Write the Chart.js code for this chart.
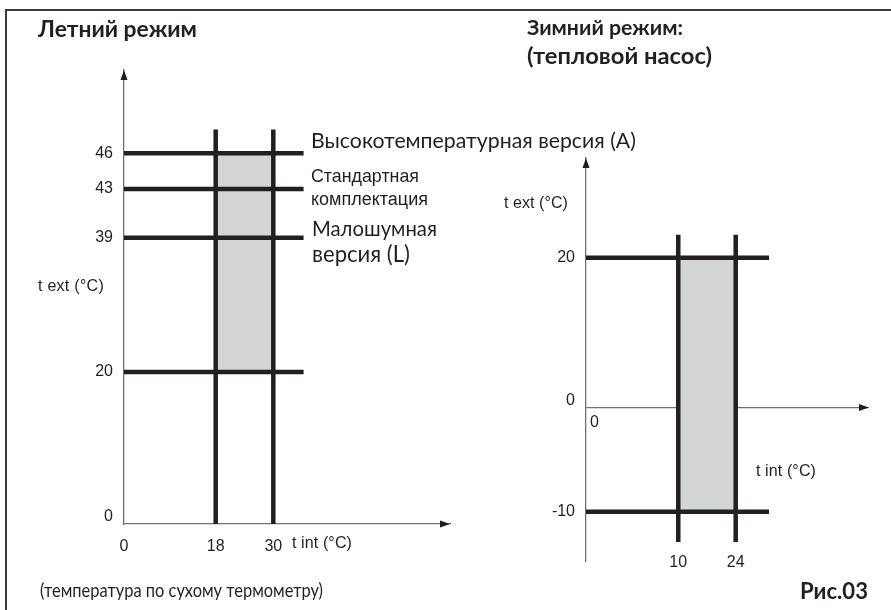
<!DOCTYPE html>
<html><head><meta charset="utf-8">
<script src="https://cdn.jsdelivr.net/npm/chart.js@4.4.1/dist/chart.umd.min.js"></script>
<style>
html,body{margin:0;padding:0;background:#fff;}
#wrap{position:relative;width:891px;height:610px;overflow:hidden;background:#fff;}
canvas{position:absolute;left:0;top:0;}
.fr{position:absolute;background:#3c3c3c;}
.t{position:absolute;white-space:nowrap;color:#231f20;font-family:Lato,"Open Sans","Noto Sans",sans-serif;line-height:1;font-size:18px;transform-origin:0 50%;}
.b{font-weight:bold;}
.a{font-family:"Liberation Sans",Arial,sans-serif;}
.n{font-family:"Liberation Sans Narrow","Liberation Sans",sans-serif;font-size:16px;}
</style></head>
<body><div id="wrap">
<div class="fr" style="left:5px;top:9px;width:886px;height:2px"></div>
<div class="fr" style="left:5px;top:9px;width:2px;height:601px"></div>
<canvas id="summer" width="891" height="610"></canvas>
<canvas id="winter" width="891" height="610"></canvas>

<div class="t b" data-fit="size" data-w="159" data-cy="30.5" style="left:38px">Летний режим</div>
<div class="t b" data-fit="size" data-w="156" data-cy="29" style="left:527px">Зимний режим:</div>
<div class="t b" data-fit="size" data-w="185" data-cy="58" style="left:527px">(тепловой насос)</div>

<div class="t" data-fit="size" data-w="325" data-cy="142" style="left:311px">Высокотемпературная версия (A)</div>
<div class="t a" data-fit="size" data-w="108" data-cy="178" style="left:311px">Стандартная</div>
<div class="t a" data-fit="size" data-w="117" data-cy="200" style="left:311px">комплектация</div>
<div class="t" data-fit="size" data-w="125" data-cy="230" style="left:312px">Малошумная</div>
<div class="t" data-fit="size" data-w="98" data-cy="256" style="left:312px">версия (L)</div>

<div class="t n" data-w="66" style="left:38px;top:278px">t ext (°C)</div>
<div class="t n" data-w="60" style="left:292px;top:535px">t int (°C)</div>
<div class="t n" data-w="64" style="left:504px;top:195px">t ext (°C)</div>
<div class="t n" data-w="60" style="left:756px;top:463px">t int (°C)</div>

<div class="t" data-fit="size" data-fs="20" data-w="283" data-cy="591" style="left:40px">(температура по сухому термометру)</div>
<div class="t b" data-fit="size" data-w="68" data-cy="592.5" style="left:800px">Рис.03</div>
</div>
<script>
// ---------- Data: summer mode (Летний режим) ----------
const summerUpperLimits = [46, 43, 39];          // upper t ext limit per version (A, standard, L)
const summerLowerLimit = 20;                      // lower t ext limit
const summerTint = [18, 30];                      // t int range
const summerYTicks = [0, 20, 39, 43, 46];
const summerXTicks = [0, 18, 30];
const summerLineSpan = [0, 36];                   // extent of horizontal limit lines (t int)
const summerVertSpan = [0, 48];                   // extent of vertical limit lines (t ext)

// ---------- Data: winter mode (Зимний режим: тепловой насос) ----------
const winterText = [-10, 20];                     // t ext range
const winterTint = [10, 24];                      // t int range
const winterYTicks = [-10, 0, 20];
const winterXTicks = [10, 24];
const winterLineSpan = [0, 32];
const winterVertSpan = [-13, 23];

// ---------- Schematic (piecewise-linear) scale ----------
class PiecewiseScale extends Chart.LinearScale {
  static id = 'piecewise';
  static defaults = Chart.LinearScale.defaults;
  _dec(v) {
    const s = this.options.stops;
    let i = 1;
    while (i < s.length - 1 && v > s[i][0]) i++;
    const a = s[i - 1], b = s[i];
    return a[1] + (v - a[0]) * (b[1] - a[1]) / (b[0] - a[0]);
  }
  getPixelForValue(v) { return this.getPixelForDecimal(this._dec(v)); }
  getValueForPixel(p) {
    const d = this.getDecimalForPixel(p), s = this.options.stops;
    let i = 1;
    while (i < s.length - 1 && d > s[i][1]) i++;
    const a = s[i - 1], b = s[i];
    return a[0] + (d - a[1]) * (b[0] - a[0]) / (b[1] - a[1]);
  }
}
Chart.register(PiecewiseScale);

const INK = '#231f20', AXIS = '#6f7072', SHADE = '#d3d5d4';
const tickFont = {family: '"Liberation Sans",Arial,sans-serif', size: 16};
const yTickFont = {family: '"Liberation Sans",Arial,sans-serif', size: 16, lineHeight: '14px'};
// the "0" label on the vertical axes sits a little above the origin
const yLabel = v => (v === 0 ? ['0', ''] : String(v));

const arrows = {
  id: 'arrows',
  afterDraw(chart) {
    const {ctx, chartArea: a, scales: {x, y}} = chart;
    const ax = x.getPixelForValue(0), ay = y.getPixelForValue(0);
    ctx.save();
    ctx.fillStyle = '#1e1e1e';
    ctx.beginPath(); ctx.moveTo(ax, a.top); ctx.lineTo(ax - 3.5, a.top + 10); ctx.lineTo(ax + 3.5, a.top + 10); ctx.closePath(); ctx.fill();
    ctx.beginPath(); ctx.moveTo(a.right, ay); ctx.lineTo(a.right - 10, ay - 3.5); ctx.lineTo(a.right - 10, ay + 3.5); ctx.closePath(); ctx.fill();
    const o = chart.options.plugins.arrows;
    if (o && o.originLabel) {
      ctx.fillStyle = INK;
      ctx.font = '16px "Liberation Sans",Arial,sans-serif';
      ctx.textAlign = 'left'; ctx.textBaseline = 'middle';
      ctx.fillText(o.originLabel, ax + 4, ay + 15);
    }
    ctx.restore();
  }
};

function hLine(v, span) { return {data: [{x: span[0], y: v}, {x: span[1], y: v}], borderColor: INK, borderWidth: 4.5, pointRadius: 0, fill: false}; }
function vLine(v, span) { return {data: [{x: v, y: span[0]}, {x: v, y: span[1]}], borderColor: INK, borderWidth: 4.5, pointRadius: 0, fill: false}; }
function box(xr, yr) {
  return {data: [{x: xr[0], y: yr[0]}, {x: xr[0], y: yr[1]}, {x: xr[1], y: yr[1]}, {x: xr[1], y: yr[0]}, {x: xr[0], y: yr[0]}],
    borderWidth: 0, borderColor: 'rgba(0,0,0,0)', backgroundColor: SHADE, pointRadius: 0, fill: 'shape'};
}
function fixedTicks(vals) { return s => { s.ticks = vals.map(v => ({value: v})); }; }

// ---------- Summer chart ----------
new Chart(document.getElementById('summer'), {
  type: 'line',
  data: {datasets: [
    ...summerUpperLimits.map(v => hLine(v, summerLineSpan)),
    hLine(summerLowerLimit, summerLineSpan),
    ...summerTint.map(v => vLine(v, summerVertSpan)),
    box(summerTint, [summerLowerLimit, Math.max(...summerUpperLimits)])
  ]},
  options: {
    responsive: false, animation: false, events: [],
    layout: {padding: {left: 0, top: 70, right: 441, bottom: 0}},
    plugins: {legend: {display: false}, tooltip: {enabled: false}, arrows: {}},
    scales: {
      x: {type: 'piecewise', min: 0, max: 65, stops: [[0, 0], [18, 0.2813], [30, 0.458], [65, 1]],
          grid: {display: false, drawTicks: false}, border: {display: true, color: AXIS, width: 1.3},
          afterBuildTicks: fixedTicks(summerXTicks), afterFit: s => { s.height = 86; },
          ticks: {font: tickFont, color: INK, padding: 13, maxRotation: 0, autoSkip: false}},
      y: {type: 'piecewise', min: 0, max: 53, stops: [[0, 0], [20, 0.3348], [39, 0.6306], [43, 0.7379], [46, 0.8165], [53, 1]],
          grid: {display: false, drawTicks: false}, border: {display: true, color: AXIS, width: 1.3},
          afterBuildTicks: fixedTicks(summerYTicks), afterFit: s => { s.width = 124; },
          ticks: {font: yTickFont, color: INK, padding: 11, autoSkip: false, callback: yLabel}}
    }
  },
  plugins: [arrows]
});

// ---------- Winter chart ----------
new Chart(document.getElementById('winter'), {
  type: 'line',
  data: {datasets: [
    ...winterText.map(v => hLine(v, winterLineSpan)),
    ...winterTint.map(v => vLine(v, winterVertSpan)),
    box(winterTint, winterText)
  ]},
  options: {
    responsive: false, animation: false, events: [],
    layout: {padding: {left: 0, top: 158, right: 22, bottom: 0}},
    plugins: {legend: {display: false}, tooltip: {enabled: false}, arrows: {originLabel: '0'}},
    scales: {
      x: {type: 'piecewise', min: 0, max: 56, stops: [[0, 0], [10, 0.326], [24, 0.529], [56, 1]],
          grid: {display: false, drawTicks: false}, border: {display: false},
          afterBuildTicks: fixedTicks(winterXTicks), afterFit: s => { s.height = 48; },
          ticks: {font: tickFont, color: INK, padding: -10, mirror: true, maxRotation: 0, autoSkip: false}},
      y: {type: 'piecewise', min: -15, max: 33, stops: [[-15, 0], [-10, 0.1245], [0, 0.3824], [20, 0.7532], [33, 1]],
          grid: {display: true, drawTicks: false, lineWidth: 1.3,
                 color: c => (c.tick && c.tick.value === 0) ? AXIS : 'rgba(0,0,0,0)'},
          border: {display: true, color: AXIS, width: 1.3},
          afterBuildTicks: fixedTicks(winterYTicks), afterFit: s => { s.width = 586; },
          ticks: {font: yTickFont, color: INK, padding: 11, autoSkip: false, callback: yLabel}}
    }
  },
  plugins: [arrows]
});

// fit annotation text to the reference extents
function fitText() {
  document.querySelectorAll('[data-w]').forEach(el => {
    const target = +el.dataset.w;
    if (el.dataset.fit === 'size') {
      el.style.transform = 'none';
      el.style.fontSize = '18px';
      const w = el.getBoundingClientRect().width;
      let size = 18 * target / w, sx = 1;
      if (el.dataset.fs) { size = +el.dataset.fs; sx = target / (w * size / 18); }
      el.style.fontSize = size.toFixed(2) + 'px';
      if (sx !== 1) el.style.transform = 'scaleX(' + sx.toFixed(4) + ')';
      const k = el.classList.contains('a') ? 0.55 : 0.58;
      el.style.top = (+el.dataset.cy - k * size).toFixed(1) + 'px';
    } else {
      el.style.letterSpacing = '0px';
      const w = el.getBoundingClientRect().width;
      el.style.letterSpacing = ((target - w) / el.textContent.length) + 'px';
    }
  });
}
fitText();
if (document.fonts && document.fonts.ready) document.fonts.ready.then(fitText);
</script>
</body></html>
